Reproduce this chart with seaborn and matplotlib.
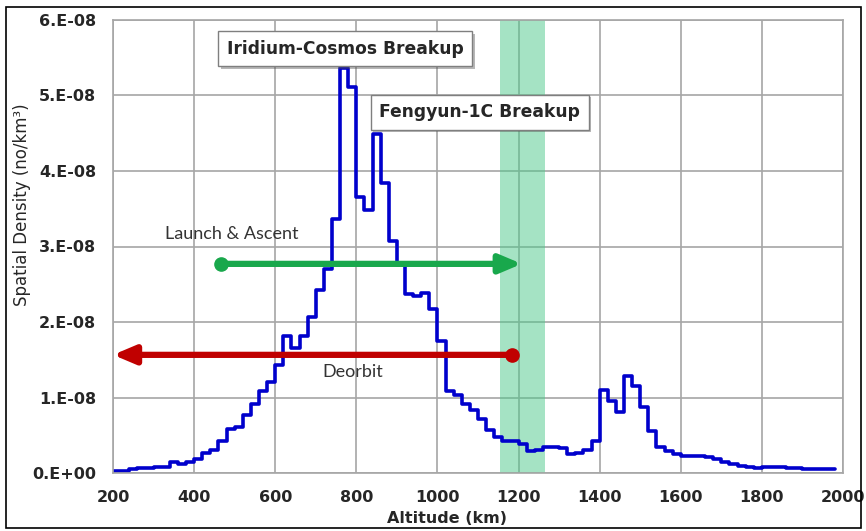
import numpy as np
import pandas as pd
import matplotlib
matplotlib.use("Agg")
import matplotlib.pyplot as plt
import matplotlib.patheffects as pe
from matplotlib.patches import Rectangle
import seaborn as sns

# altitude bin edges (km), 20 km bins, last value closes the final step
altitude = np.arange(200, 2000, 20)
# spatial density in units of 1e-8 no/km^3
density = [
    0.03, 0.03, 0.05, 0.06, 0.06, 0.08, 0.08, 0.14, 0.12, 0.14,
    0.19, 0.26, 0.31, 0.42, 0.58, 0.61, 0.77, 0.92, 1.08, 1.20,
    1.43, 1.82, 1.66, 1.82, 2.07, 2.42, 2.70, 3.36, 5.37, 5.11,
    3.65, 3.48, 4.49, 3.84, 3.07, 2.76, 2.37, 2.34, 2.39, 2.17,
    1.75, 1.09, 1.03, 0.92, 0.83, 0.71, 0.57, 0.48, 0.43, 0.42,
    0.39, 0.29, 0.31, 0.34, 0.35, 0.33, 0.25, 0.27, 0.30, 0.43,
    1.10, 0.96, 0.81, 1.28, 1.15, 0.87, 0.55, 0.34, 0.29, 0.25,
    0.23, 0.22, 0.23, 0.21, 0.19, 0.15, 0.12, 0.09, 0.08, 0.07,
    0.075, 0.075, 0.075, 0.07, 0.07, 0.05, 0.05, 0.05, 0.05, 0.05,
]

x_ticks = [200, 400, 600, 800, 1000, 1200, 1400, 1600, 1800, 2000]
y_ticks = [0, 1e-8, 2e-8, 3e-8, 4e-8, 5e-8, 6e-8]
y_tick_labels = ["0.E+00", "1.E-08", "2.E-08", "3.E-08", "4.E-08", "5.E-08", "6.E-08"]

band = [1155, 1265]                 # shaded altitude band (km)
launch = [466, 1208, 2.77e-8]       # start, end, level
deorbit = [1183, 200, 1.565e-8]     # start, end, level

df = pd.DataFrame({"altitude": altitude, "density": np.array(density) * 1e-8})

sns.set_style("white")
fig = plt.figure(figsize=(8.66, 5.31), dpi=100)
ax = fig.add_axes([113 / 866, 1 - 473 / 531, 730 / 866, 453 / 531])

ax.axvspan(band[0], band[1], color="#4cc98a", alpha=0.5, lw=0, zorder=1)
sns.lineplot(data=df, x="altitude", y="density", drawstyle="steps-post",
             color="#0000cc", lw=2.6, ax=ax, zorder=2)

green = "#19a84c"
red = "#c00000"
for (x0, x1, yv), col in [(launch, green), (deorbit, red)]:
    ax.annotate("", xy=(x1, yv), xytext=(x0, yv),
                arrowprops=dict(arrowstyle="-|>,head_length=1.3,head_width=0.55",
                                color=col, lw=4.5, shrinkA=0, shrinkB=0,
                                mutation_scale=10), zorder=3)
    ax.plot([x0], [yv], marker="o", ms=9.5, color=col, zorder=4)

ax.text(493, 3.17e-8, "Launch & Ascent", fontsize=13, family="Lato",
        color="#333333", ha="center", va="center", zorder=5)
ax.text(792, 1.343e-8, "Deorbit", fontsize=13, family="Lato",
        color="#333333", ha="center", va="center", zorder=5)

for label, xv, yv in [("Iridium-Cosmos Breakup", 772, 5.617e-8),
                      ("Fengyun-1C Breakup", 1104, 4.78e-8)]:
    t = ax.text(xv, yv, label, fontsize=12.3, fontweight="bold", ha="center",
                va="center", zorder=6,
                bbox=dict(boxstyle="square,pad=0.5", fc="white",
                          ec="#7f7f7f", lw=1))
    t.get_bbox_patch().set_path_effects(
        [pe.withSimplePatchShadow(offset=(2, -2), alpha=0.4)])

ax.set_xlim(200, 2000)
ax.set_ylim(0, 6e-8)
ax.set_xticks(x_ticks)
ax.set_xticklabels([str(v) for v in x_ticks], fontweight="bold", fontsize=11.5)
ax.set_yticks(y_ticks)
ax.set_yticklabels(y_tick_labels, fontweight="bold", fontsize=11.5)
ax.tick_params(length=0, pad=12)
ax.grid(True, color="#a6a6a6", lw=1.2)
for s in ax.spines.values():
    s.set_color("#a6a6a6")
    s.set_linewidth(1.2)

ax.set_xlabel("Altitude (km)", fontweight="bold", fontsize=11.5)
ax.xaxis.set_label_coords(0.4575, -0.1015)
ax.xaxis.label.set_va("center")
ax.set_ylabel("Spatial Density (no/km³)", fontsize=12)
ax.yaxis.set_label_coords(-0.1247, 0.5916)
ax.yaxis.label.set_va("center")

fig.patches.append(Rectangle((6 / 866, 3 / 531), 855 / 866, 521 / 531,
                             transform=fig.transFigure, fill=False,
                             edgecolor="black", lw=1.2))

fig.savefig("out.png", dpi=100)
